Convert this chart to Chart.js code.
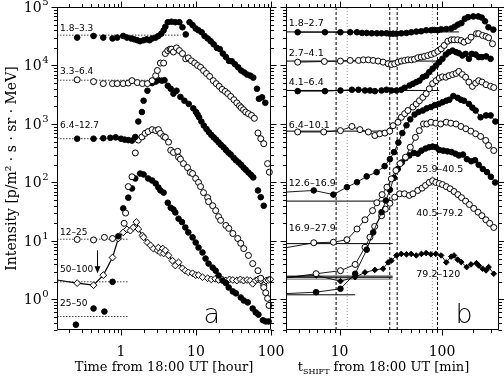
<!DOCTYPE html>
<html>
<head>
<meta charset="utf-8">
<script src="https://cdn.jsdelivr.net/npm/chart.js@4.4.0/dist/chart.umd.min.js"></script>
<style>
  html, body { margin: 0; padding: 0; background: #fff; }
  #wrap { position: relative; width: 504px; height: 376px; overflow: hidden; }
  #left { position: absolute; left: 0; top: 0; }
  #right { position: absolute; left: 276px; top: 0; }
</style>
</head>
<body>
<div id="wrap">
  <canvas id="left" width="290" height="376"></canvas>
  <canvas id="right" width="228" height="376"></canvas>
</div>
<script>
// ---------- panel a : time in hours ----------
const hrsA = [0.26,0.43,0.58,0.77,0.89,1.07,1.2,1.37,1.5,1.65,1.8,2.0,2.2,2.4,2.6,2.9,3.15,3.45,3.7,3.9,4.2,4.7,5.3,6.0,6.6,7.3,8.2,9.0,9.9,10.8,11.9,13.0,14.3,15.7,17.2,19.0,20.8,22.8,25,27.5,30,33,36.5,40,44,48,53,58,65,69,76,84];
const valA = [3.0e4,3.2e4,3.0e4,2.9e4,3.0e4,3.2e4,3.0e4,2.9e4,2.8e4,2.7e4,2.6e4,2.7e4,2.8e4,2.7e4,2.9e4,3.0e4,3.2e4,3.5e4,4.0e4,4.6e4,5.5e4,5.6e4,5.5e4,5.5e4,4.5e4,3.4e4,5.5e4,4.9e4,4.3e4,4.0e4,3.7e4,3.2e4,2.9e4,2.6e4,2.3e4,2.0e4,1.9e4,1.6e4,1.4e4,1.2e4,1.18e4,1.05e4,9.3e3,8.2e3,7.6e3,7.0e3,6.7e3,6.2e3,4.0e3,2.7e3,2.85e3,2.3e3];

const hrsB = [0.26,0.43,0.58,0.77,0.89,1.07,1.25,1.4,1.65,1.93,2.25,2.6,2.9,3.05,3.35,3.7,3.9,4.2,4.5,4.7,5.0,5.5,6.0,6.6,7.3,7.9,8.7,9.6,10.5,11.5,12.6,13.8,15.2,17,18.6,20.4,22.3,24.5,26.5,29,32,35,38,40,43,46,50,55,60,67,73,80,90,95];
const valB = [5.7e3,5.3e3,4.9e3,4.9e3,4.9e3,4.9e3,5.0e3,5.5e3,5.1e3,4.9e3,4.9e3,5.5e3,6.7e3,8.2e3,1.1e4,1.1e4,1.6e4,1.8e4,1.9e4,1.9e4,1.7e4,2.0e4,1.8e4,1.6e4,1.3e4,1.35e4,1.2e4,1.1e4,1.0e4,9.3e3,8.2e3,7.3e3,6.5e3,5.5e3,4.9e3,4.4e3,3.9e3,3.6e3,3.3e3,2.95e3,2.6e3,2.3e3,2.05e3,1.9e3,1.75e3,1.6e3,1.5e3,1.4e3,1.25e3,700,560,460,210,150];

const hrsC = [0.26,0.43,0.58,0.72,0.85,1.0,1.12,1.25,1.4,1.55,1.7,1.9,2.0,2.25,2.6,2.9,3.15,3.5,3.8,4.2,4.6,5.0,5.5,6.2,7.0,8.0,9.2,10,10.5,11,11.8,12.7,13.8,14.9,16,17.2,18.5,20,21.5,23.3,25,27,29,31.7,34,37,40,43,46,50,54,58,67,73,80];
const valC = [560,560,570,580,590,560,540,530,520,600,1.1e3,1.6e3,2.5e3,3.7e3,5.0e3,5.3e3,5.6e3,5.5e3,5.6e3,4.5e3,4.0e3,3.3e3,3.7e3,2.9e3,2.5e3,2.2e3,1.85e3,1.6e3,1.45e3,1.3e3,1.1e3,940,820,720,650,590,540,485,440,400,360,325,300,265,240,220,200,180,165,148,135,122,73,56,40];

const hrsD = [0.26,0.43,0.6,0.77,1.1,1.15,1.25,1.4,1.55,1.7,1.9,2.1,2.3,2.6,2.9,3.15,3.35,3.7,3.9,4.3,4.6,5.0,5.7,5.85,6.2,6.8,7.7,8.4,9.0,9.9,10.8,11.5,12.6,14.3,14.7,16.7,18.3,20,21.3,25,27.3,31,36,39.5,43.3,50,57,67,73,80,85,90,94];
const valD = [10.6,10.4,11.5,11,20,30,85,125,320,530,600,690,740,800,770,800,690,610,590,490,355,325,340,270,250,210,180,148,142,117,100,85,67,55,47,40,33,26,22.5,18.4,16.4,13.4,11,9.1,7.4,5.65,4.1,3.1,2.3,1.6,1.3,1.04,0.79];

const hrsE = [0.25,0.43,0.6,0.77,0.92,1.07,1.25,1.4,1.55,1.8,2.0,2.3,2.6,2.9,3.15,3.35,3.7,4.2,4.6,5.0,5.3,5.85,6.5,7.2,7.9,9.0,9.9,10.8,12.2,13.4,14.7,16.7,18.3,20,22.7,25,27.3,31,34,39.5,43.3,49,57,62.6,68,78,85,93];
const valE = [0.37,0.70,0.62,2.0,12,36,55,79,117,142,137,117,108,96,82,73,67,45,37,34.5,30.7,24,21,17,14,11.5,9.4,7.7,6.35,5.0,4.1,3.5,3.1,2.57,2.1,1.9,1.6,1.37,1.27,1.08,0.96,0.89,0.70,0.60,0.55,0.44,0.42,0.42];

const hrsF = [0.14,0.26,0.43,0.58,0.77,0.92,1.07,1.2,1.33,1.46,1.6,1.7,1.93,2.0,2.25,2.47,2.7,3.05,3.15,3.35,3.6,3.7,3.9,4.3,4.85,5.3,5.85,6.6,7.2,7.9,9.0,9.9,10.8,12.2,14.3,16,18,20,22.5,25,28,31,35,39,43,48,53,57,62,67,73,80,86,92,98];
const valF = [2.15,1.9,1.75,2.6,5.2,11,14,15.7,15,17,21,16,12.4,11.5,9.4,8.4,7.4,6.9,7.7,6.35,7.4,6.1,6.9,5.65,4.6,3.8,4.3,3.4,3.1,2.9,2.8,2.6,2.6,2.4,2.3,2.2,2.25,2.15,2.2,2.1,2.2,2.15,2.1,2.2,2.1,2.15,2.1,1.85,2.1,2.2,2.1,1.75,2.1,2.15,2.2];

// pre-event background levels of panel a and the hour where each dotted line stops
const baseLevelA = [3.3e4, 5.6e3, 560, 10.7, 2.0, 0.51];
const baseEndA = [6.2, 3.0, 2.2, 1.25, 1.25, 1.25];

const labelsA = ['1.8–3.3', '3.3–6.4', '6.4–12.7', '12–25', '50–100', '25–50'];

// ---------- panel b : shifted time in minutes ----------
const minR1 = [3.9,7.2,10.2,12.7,14.8,16.6,18.4,20.6,23.1,25.7,28.7,30.9,33.3,36,40.1,44.9,50.2,56.1,62.7,70.1,78.4,84.5,91,98.3,110,123,133,143,154.5,167,180,202,226,244,263,284,317];
const valR1 = [3.7e4,3.7e4,3.7e4,3.7e4,3.7e4,3.6e4,3.6e4,3.55e4,3.55e4,3.55e4,3.55e4,3.5e4,3.5e4,3.5e4,3.55e4,3.6e4,3.7e4,3.8e4,3.85e4,4.0e4,4.0e4,4.05e4,4.0e4,4.15e4,4.2e4,4.3e4,4.6e4,5.0e4,5.3e4,6.3e4,6.7e4,6.9e4,6.9e4,6.6e4,5.7e4,4.5e4,4.1e4];

const minR2 = [3.9,7.1,10.2,12.7,15.3,17.1,19.1,21.3,23.8,26.6,29.8,32.1,34.5,37.2,40.1,43.2,46.5,50.2,53.9,58.1,62.7,67.3,72.6,78.4,84.5,91,98.3,105,114,123,131,142,154,164,180,192,217,228,249,269,285,311];
const valR2 = [1.14e4,1.17e4,1.19e4,1.22e4,1.22e4,1.25e4,1.25e4,1.22e4,1.19e4,1.14e4,1.07e4,1.04e4,1.07e4,1.14e4,1.19e4,1.22e4,1.25e4,1.25e4,1.28e4,1.36e4,1.39e4,1.43e4,1.48e4,1.54e4,1.62e4,1.75e4,1.93e4,2.2e4,2.6e4,2.75e4,2.75e4,2.75e4,2.67e4,2.5e4,2.67e4,3.05e4,3.5e4,3.5e4,3.26e4,3.13e4,2.98e4,2.35e4];

const minR3 = [3.9,7.2,10.2,13.2,15.3,17.7,19.8,22.1,25.7,28.7,32.1,36,40.1,43.2,48.2,52,56.1,60.2,64.9,70.1,75.2,81,87.4,94,101,109,117,127,137,146,158,170,183,195,213,228,246,270,298];
const valR3 = [3.64e3,3.64e3,3.74e3,3.85e3,3.85e3,3.74e3,3.74e3,3.64e3,3.74e3,3.85e3,3.74e3,3.74e3,3.85e3,4.16e3,4.55e3,4.86e3,5.2e3,5.5e3,6.3e3,6.7e3,7.7e3,8.8e3,1.0e4,1.14e4,1.3e4,1.54e4,1.69e4,1.8e4,1.69e4,1.62e4,1.48e4,1.58e4,1.3e4,1.58e4,1.54e4,1.39e4,1.39e4,1.43e4,1.3e4];

const minR4 = [3.9,7.0,10.2,13.2,15.8,19.1,22.1,24.7,27.7,30.9,33.3,37.2,40.1,43.2,46.5,52,56.1,60.2,64.9,70.1,75.2,81,87.4,94,101,109,117,127,137,146,158,170,183,198,213,228,246,269,298,320];
const valR4 = [730,730,770,906,800,730,635,680,700,754,935,1.07e3,1.3e3,1.5e3,1.7e3,1.95e3,2.2e3,2.5e3,2.85e3,3.3e3,4.0e3,4.9e3,5.5e3,6.1e3,6.4e3,6.3e3,6.7e3,7.0e3,7.3e3,7.9e3,7.0e3,6.3e3,5.2e3,4.4e3,5.0e3,5.5e3,5.2e3,4.7e3,4.4e3,4.2e3];

const minR5 = [2.8,5.6,8.7,11.8,14.8,18.4,23,27.5,31,34,37.5,41,45,49,54,59,65,71,78,85,93,101,110,118,129,142,153,164,183,198,213,238,269,298,332];
const valR5 = [68,73,62,83,101,127,150,190,250,330,480,700,950,1.2e3,1.45e3,1.6e3,1.7e3,1.85e3,1.95e3,2.1e3,2.2e3,2.35e3,2.5e3,2.6e3,3.0e3,2.8e3,2.6e3,2.5e3,2.2e3,1.9e3,1.7e3,1.3e3,1.4e3,1.4e3,1.1e3];

const minR7 = [2.8,5.6,8.7,11.8,14.8,17.7,21,23.1,26,29,32,35.5,39,44,49,55,60,66,71,78,87,97,110,122,137,153,171,191,213,238,267,285,320];
const valR7 = [7.5,9.3,9.5,10.5,16,23,33,45,62,83,115,160,210,270,400,590,770,1.0e3,1.0e3,1.07e3,1.03e3,1.0e3,1.07e3,1.03e3,1.0e3,906,828,754,680,611,523,429,352];

const minR8 = [2.8,5.9,10.2,14.2,18.4,21.3,25.7,28.3,31,34,37,40.5,44,48,53,58,63,69,75,81,87,94,103,113,124,135,146,160,175,193,210,228,250,275,300,330];
const valR8 = [1.25,1.33,1.52,2.75,7.1,14,31,49,75,120,170,220,260,290,320,310,350,380,400,410,400,360,350,340,330,310,290,300,250,230,240,200,170,150,125,100];

const minR9 = [2.8,5.9,10.2,14.2,17.7,19.8,22,25.7,28,31,34.5,38.6,43,48,52,58,64,69,75,81,87,94,101,110,120,131,143,155,170,185,204,225,245,268,292,320];
const valR9 = [2.3,2.75,3.1,3.96,7.8,11.6,17.7,27,35,44,56,64,64,60,64,73,80,89,100,107,100,96,92,85,78,70,62,55,48,42,36,31,27,23,20,17];

const minR10 = [2.8,5.9,10.2,14.2,17.7,22.1,26.6,29.8,32,36,40,45,50,56,63,70,78,87,98,110,123,131,142,154,174,192,217,228,249,269,285,320];
const valR10 = [2.4,2.57,2.05,2.4,2.9,3.2,3.35,4.3,4.6,5.65,6.0,5.9,6.0,5.65,6.0,6.2,5.9,6.0,5.65,4.3,5.4,5.65,4.8,4.35,3.57,3.97,4.17,3.8,3.35,3.13,3.57,2.75];

const baseLevelB = [3.75e4, 1.19e4, 3.74e3, 754, 48, 9.0, 2.5, 2.35, 2.2, 1.2];
const baseEndB = [146, 94, 94, 31, 31, 33, 33, 33, 33, 14.2];
const baseGrayB = [false, false, false, false, false, false, false, false, true, false];

const markerMin = [9.25, 11.9, 30.9, 36.5, 80.5, 90.3];
const markerGray = [false, true, false, false, true, false];

const labelsB = ['1.8–2.7', '2.7–4.1', '4.1–6.4', '6.4–10.1', '12.6–16.9', '16.9–27.9', '25.9–40.5', '40.5–79.2', '79.2–120'];

// where the annotation texts sit, in data units
const labelAtA = [[0.154, 4.24e4], [0.154, 7.7e3], [0.154, 943], [0.154, 13.7], [0.154, 3.19], [0.154, 0.845]];
const labelAtB = [[3.19, 5.16e4], [3.19, 1.58e4], [3.19, 5.2e3], [3.19, 943], [3.19, 96], [3.19, 16.4], [56.1, 165], [56.1, 29.2], [56.1, 2.67]];

const Y_MIN = 0.3, Y_MAX = 1e5;
const SERIF = '"DejaVu Serif", serif';

function xy(xs, ys) {
  return xs.map((x, i) => ({ x, y: ys[i] }));
}

function isDecade(v) {
  const e = Math.log10(v);
  return Math.abs(e - Math.round(e)) < 1e-6;
}

// marker series; points sitting at/left of the axis start only feed the line
function series(xs, ys, kind, withLine, edge) {
  const open = kind === 'open' || kind === 'openDiamond';
  const diamond = kind === 'diamond' || kind === 'openDiamond';
  const r = diamond ? 3.4 : (open ? 3.0 : 2.8);
  return {
    data: xy(xs, ys),
    showLine: withLine,
    borderColor: '#000',
    borderWidth: withLine ? 0.9 : 0,
    pointStyle: diamond ? 'rectRot' : 'circle',
    pointRadius: ctx => (ctx.raw && ctx.raw.x <= edge ? 0 : r),
    pointBackgroundColor: open ? '#fff' : '#000',
    pointBorderColor: '#000',
    pointBorderWidth: 1,
    clip: { left: 0, right: 8, top: 8, bottom: 8 },
    order: 0
  };
}

function hline(level, from, to, color, dash, width) {
  return {
    data: [{ x: from, y: level }, { x: to, y: level }],
    showLine: true,
    borderColor: color,
    borderWidth: width,
    borderDash: dash,
    pointRadius: 0,
    order: 5
  };
}

function vline(at, color, dash) {
  return {
    data: [{ x: at, y: Y_MIN }, { x: at, y: Y_MAX }],
    showLine: true,
    borderColor: color,
    borderWidth: 1,
    borderDash: dash,
    pointRadius: 0,
    order: 6
  };
}

function logTicks(min, max) {
  const out = [];
  for (let k = Math.floor(Math.log10(min)); k <= Math.ceil(Math.log10(max)); k++) {
    for (let m = 1; m <= 9; m++) {
      const v = m * Math.pow(10, k);
      if (v >= min * 0.999 && v <= max * 1.001) out.push([v, m === 1]);
    }
  }
  return out;
}

// box round the plot with outward ticks on all four sides
const frameTicks = {
  id: 'frameTicks',
  afterDatasetsDraw(chart) {
    const { ctx, chartArea: a, scales } = chart;
    const xs = scales.x, ys = scales.y;
    const L = Math.round(a.left) + 0.5, R = Math.round(a.right) - 0.5;
    const T = Math.round(a.top) + 0.5, B = Math.round(a.bottom) - 0.5;
    ctx.save();
    ctx.strokeStyle = '#000';
    ctx.lineWidth = 1;
    ctx.beginPath();
    ctx.rect(L, T, R - L, B - T);
    logTicks(xs.min, xs.max).forEach(([v, major]) => {
      const p = Math.round(xs.getPixelForValue(v)) + 0.5;
      const len = major ? 6 : 3.5;
      ctx.moveTo(p, B); ctx.lineTo(p, B + len);
      ctx.moveTo(p, T); ctx.lineTo(p, T - len);
    });
    logTicks(ys.min, ys.max).forEach(([v, major]) => {
      const p = Math.round(ys.getPixelForValue(v)) + 0.5;
      const len = major ? 6 : 3.5;
      ctx.moveTo(L, p); ctx.lineTo(L - len, p);
      ctx.moveTo(R, p); ctx.lineTo(R + len, p);
    });
    ctx.stroke();
    ctx.restore();
  }
};

// "10" with a raised exponent for each decade of the y axis (panel a only)
const decadeLabels = {
  id: 'decadeLabels',
  afterDraw(chart) {
    const { ctx, scales: { y } } = chart;
    const right = chart.chartArea.left - 9;
    ctx.save();
    ctx.fillStyle = '#000';
    ctx.textBaseline = 'alphabetic';
    ctx.textAlign = 'left';
    logTicks(y.min, y.max).filter(t => t[1]).forEach(([v]) => {
      const e = String(Math.round(Math.log10(v)));
      const py = y.getPixelForValue(v);
      ctx.font = '10px ' + SERIF;
      const we = ctx.measureText(e).width;
      ctx.font = '14px ' + SERIF;
      const wb = ctx.measureText('10').width;
      const x0 = right - we - wb;
      ctx.fillText('10', x0, py + 5);
      ctx.font = '10px ' + SERIF;
      ctx.fillText(e, x0 + wb + 0.5, py - 2);
    });
    ctx.restore();
  }
};

function notesPlugin(texts, extra) {
  return {
    id: 'notes',
    afterDatasetsDraw(chart) {
      const { ctx, scales: { x, y } } = chart;
      ctx.save();
      ctx.fillStyle = '#000';
      texts.forEach(t => {
        ctx.font = t.font;
        ctx.textAlign = t.align || 'left';
        ctx.textBaseline = t.baseline || 'middle';
        ctx.fillText(t.text, x.getPixelForValue(t.at[0]), y.getPixelForValue(t.at[1]));
      });
      if (extra) extra(chart, ctx);
      ctx.restore();
    }
  };
}

function baseOptions(xMin, xMax, padding, yWidth) {
  return {
    responsive: false,
    animation: false,
    devicePixelRatio: 1,
    events: [],
    layout: { padding },
    plugins: { legend: { display: false }, tooltip: { enabled: false } },
    scales: {
      x: {
        type: 'logarithmic',
        min: xMin,
        max: xMax,
        grid: { display: false, drawTicks: false },
        border: { display: false },
        ticks: {
          autoSkip: false, maxRotation: 0, minRotation: 0, padding: 14,
          color: '#000', font: { family: SERIF, size: 14 },
          callback: v => (isDecade(v) && v >= 1 ? String(Math.round(v)) : '')
        },
        afterFit: s => { s.height = 46; s.paddingLeft = 0; s.paddingRight = 0; }
      },
      y: {
        type: 'logarithmic',
        min: Y_MIN,
        max: Y_MAX,
        grid: { display: false, drawTicks: false },
        border: { display: false },
        ticks: { autoSkip: false, callback: () => '' },
        afterFit: s => { s.width = yWidth; s.paddingTop = 0; s.paddingBottom = 0; }
      }
    }
  };
}

// ---------- chart a ----------
const dsA = [
  series(hrsA, valA, 'filled', false, 0.14),
  series(hrsB, valB, 'open', false, 0.14),
  series(hrsC, valC, 'filled', false, 0.14),
  series(hrsD, valD, 'open', false, 0.14),
  series(hrsE, valE, 'filled', false, 0.14),
  series(hrsF, valF, 'openDiamond', true, 0.14)
];
dsA[5].borderWidth = 1.2;
baseLevelA.forEach((lv, i) => dsA.push(hline(lv, 0.14, baseEndA[i], '#444', [1.5, 1.5], 1)));

const textsA = labelsA.map((t, i) => ({ text: t, at: labelAtA[i], font: '9px "DejaVu Sans"' }));
textsA.push({ text: 'a', at: [16.2, 0.39], font: '200 27px "DejaVu Sans"', align: 'center', baseline: 'alphabetic' });

const arrowAt = [0.477, 6.9, 2.8];
function drawArrow(chart, ctx) {
  const { x, y } = chart.scales;
  const px = Math.round(x.getPixelForValue(arrowAt[0])) + 0.5;
  const y0 = y.getPixelForValue(arrowAt[1]), y1 = y.getPixelForValue(arrowAt[2]);
  ctx.strokeStyle = '#000';
  ctx.lineWidth = 1;
  ctx.beginPath();
  ctx.moveTo(px, y0); ctx.lineTo(px, y1 - 5);
  ctx.stroke();
  ctx.beginPath();
  ctx.moveTo(px - 3, y1 - 7); ctx.lineTo(px + 3, y1 - 7); ctx.lineTo(px, y1);
  ctx.closePath();
  ctx.fill();
}

const optA = baseOptions(0.14, 100, { top: 7, right: 19, bottom: 0, left: 0 }, 57);
optA.scales.y.title = {
  display: true, text: 'Intensity [p/m² · s · sr · MeV]', color: '#000',
  font: { family: SERIF, size: 14 }, padding: { top: 4, bottom: 0 }
};
optA.scales.x.title = {
  display: true, text: 'Time from 18:00 UT [hour]', color: '#000',
  font: { family: SERIF, size: 13 }, padding: { top: 0, bottom: 1 }
};

new Chart(document.getElementById('left'), {
  type: 'scatter',
  data: { datasets: dsA },
  options: optA,
  plugins: [frameTicks, decadeLabels, notesPlugin(textsA, drawArrow)]
});

// ---------- chart b ----------
const dsB = [
  series(minR1, valR1, 'filled', true, 3),
  series(minR2, valR2, 'open', true, 3),
  series(minR3, valR3, 'filled', true, 3),
  series(minR4, valR4, 'open', true, 3),
  series(minR5, valR5, 'filled', true, 3),
  series(minR7, valR7, 'open', true, 3),
  series(minR8, valR8, 'filled', true, 3),
  series(minR9, valR9, 'open', true, 3),
  series(minR10, valR10, 'diamond', true, 3)
];
dsB[8].pointRadius = ctx => (ctx.raw && ctx.raw.x <= 3 ? 0 : 2.8);
baseLevelB.forEach((lv, i) => dsB.push(hline(lv, 3, baseEndB[i], baseGrayB[i] ? '#999' : '#000', [], 1)));
markerMin.forEach((m, i) => dsB.push(vline(m, markerGray[i] ? '#999' : '#000', markerGray[i] ? [1, 2] : [3, 2])));

const textsB = labelsB.map((t, i) => ({ text: t, at: labelAtB[i], font: '9.5px "DejaVu Sans"' }));
textsB.push({ text: 'b', at: [164, 0.39], font: '200 27px "DejaVu Sans"', align: 'center', baseline: 'alphabetic' });

function drawShiftTitle(chart, ctx) {
  const big = '13px ' + SERIF, small = '8px ' + SERIF;
  const parts = [['t', big, 0], ['SHIFT', small, 3], [' from 18:00 UT [min]', big, 0]];
  ctx.textBaseline = 'alphabetic';
  ctx.textAlign = 'left';
  let w = 0;
  parts.forEach(p => { ctx.font = p[1]; w += ctx.measureText(p[0]).width; });
  const a = chart.chartArea;
  let x = (a.left + a.right) / 2 - 9 - w / 2;
  parts.forEach(p => {
    ctx.font = p[1];
    ctx.fillText(p[0], x, 371 + p[2]);
    x += ctx.measureText(p[0]).width;
  });
}

const optB = baseOptions(3, 360, { top: 7, right: 4, bottom: 0, left: 10 }, 0);
optB.scales.y.display = false;

new Chart(document.getElementById('right'), {
  type: 'scatter',
  data: { datasets: dsB },
  options: optB,
  plugins: [frameTicks, notesPlugin(textsB, drawShiftTitle)]
});
</script>
</body>
</html>
